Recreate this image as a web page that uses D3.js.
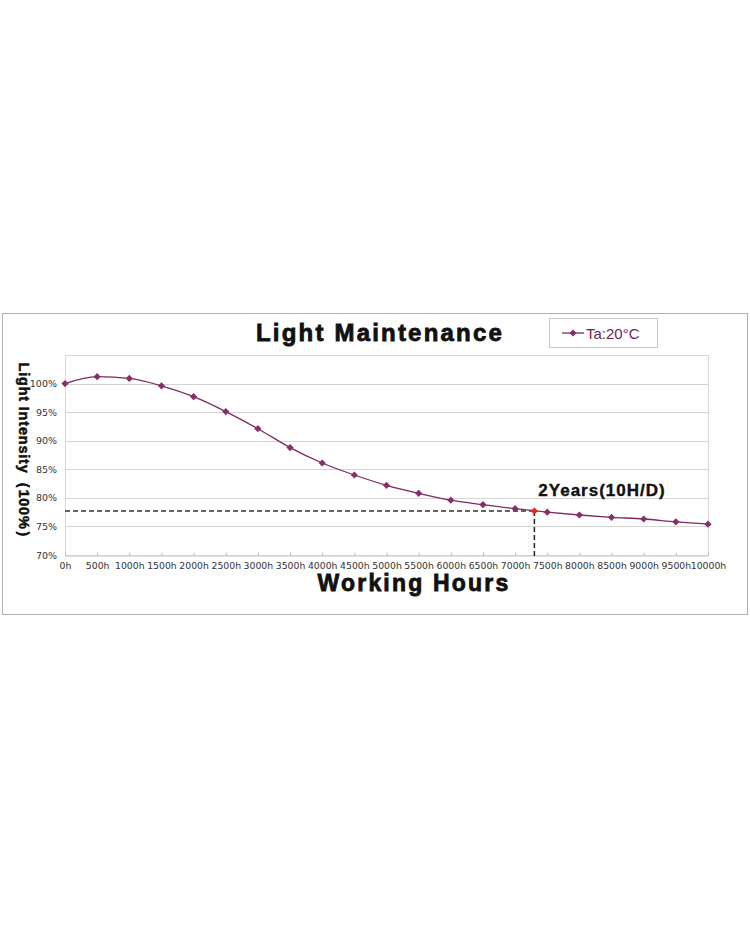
<!DOCTYPE html>
<html>
<head>
<meta charset="utf-8">
<script src="https://cdn.jsdelivr.net/npm/d3@7"></script>
<style>
html,body{margin:0;padding:0;background:#fff;}
svg{display:block;}
</style>
</head>
<body>
<svg id="chart" width="750" height="930"></svg>
<script>
// ---- data ----
const hours = [0,500,1000,1500,2000,2500,3000,3500,4000,4500,5000,5500,6000,6500,7000,7500,8000,8500,9000,9500,10000];
const intensity = [100,101.2,100.9,99.6,97.7,95.1,92.1,88.8,86.1,84.0,82.2,80.8,79.6,78.8,78.1,77.5,77.0,76.6,76.3,75.8,75.4];
const yTicks = [70,75,80,85,90,95,100];
const highlightHours = [7300];
const highlightValue = [77.7];
const seriesName = "Ta:20°C";
const titleText = "Light Maintenance";
const xTitle = "Working Hours";
const yTitle = "Light Intensity（100%）";
const noteText = "2Years(10H/D)";

const svg = d3.select("#chart");
const pL = 65, pR = 708, pT = 355, pB = 555;
const x = d3.scaleLinear().domain([0,10000]).range([pL,pR]);
const y = d3.scaleLinear().domain([70,105]).range([pB,pT]);

// outer frame
svg.append("rect").attr("x",2.5).attr("y",313.5).attr("width",745).attr("height",301)
  .attr("fill","#fff").attr("stroke","#b0b0b0").attr("stroke-width",1);

// grid lines
svg.append("g").selectAll("line").data(yTicks).join("line")
  .attr("x1",pL).attr("x2",pR)
  .attr("y1",d=>Math.round(y(d))+0.5).attr("y2",d=>Math.round(y(d))+0.5)
  .attr("stroke","#d4d4d4").attr("stroke-width",1);

// plot border
svg.append("rect").attr("x",pL+0.5).attr("y",pT+0.5).attr("width",pR-pL).attr("height",pB-pT)
  .attr("fill","none").attr("stroke","#d8d8d8");

// x axis
const xAxis = d3.axisBottom(x).tickValues(hours).tickFormat(d=>d+"h").tickSize(-3).tickPadding(7);
const gx = svg.append("g").attr("transform",`translate(0,${pB+0.5})`).call(xAxis);
gx.select(".domain").attr("stroke","#c8c8c8");
gx.selectAll(".tick line").attr("stroke","#b8b8b8");
gx.selectAll("text").attr("font-family","DejaVu Sans").attr("font-size",9.3)
  .attr("fill","#333");

// y axis
const yAxis = d3.axisLeft(y).tickValues(yTicks).tickFormat(d=>d+"%").tickSize(0).tickPadding(8);
const gy = svg.append("g").attr("transform",`translate(${pL},0)`).call(yAxis);
gy.select(".domain").remove();
gy.selectAll("text").attr("font-family","DejaVu Sans").attr("font-size",9.5).attr("fill","#333");

// dashed reference lines
svg.append("line").attr("x1",pL).attr("x2",x(highlightHours[0]))
  .attr("y1",y(highlightValue[0])).attr("y2",y(highlightValue[0]))
  .attr("stroke","#333").attr("stroke-width",1.5).attr("stroke-dasharray","5,3");
svg.append("line").attr("x1",x(highlightHours[0])).attr("x2",x(highlightHours[0]))
  .attr("y1",y(highlightValue[0])).attr("y2",pB+1)
  .attr("stroke","#222").attr("stroke-width",1.5).attr("stroke-dasharray","5,3");

// series line
const pts = hours.map((h,i)=>[h,intensity[i]]);
const line = d3.line().x(d=>x(d[0])).y(d=>y(d[1])).curve(d3.curveMonotoneX);
svg.append("path").datum(pts).attr("d",line).attr("fill","none")
  .attr("stroke","#7d2a60").attr("stroke-width",1.3);

const diamond = d3.symbol().type(d3.symbolSquare).size(26);
svg.append("g").selectAll("path").data(pts).join("path")
  .attr("d",diamond).attr("transform",d=>`translate(${x(d[0])},${y(d[1])}) rotate(45)`)
  .attr("fill","#862f6a");

// highlight point
svg.append("g").selectAll("path").data(highlightHours).join("path")
  .attr("d",d3.symbol().type(d3.symbolSquare).size(26))
  .attr("transform",(d,i)=>`translate(${x(d)},${y(highlightValue[i])}) rotate(45)`)
  .attr("fill","#e8251a");

// note
svg.append("text").attr("x",602).attr("y",496).attr("text-anchor","middle")
  .attr("font-family","Liberation Sans").attr("font-weight","bold").attr("font-size",17)
  .attr("letter-spacing","1px").attr("stroke","#111").attr("stroke-width",0.4)
  .attr("fill","#111").text(noteText);

// title
svg.append("text").attr("x",380).attr("y",341).attr("text-anchor","middle")
  .attr("font-family","Liberation Sans").attr("font-weight","bold").attr("font-size",24)
  .attr("letter-spacing","2.2px").attr("stroke","#111").attr("stroke-width",0.8)
  .attr("fill","#111").text(titleText);

// x title
svg.append("text").attr("x",414).attr("y",591).attr("text-anchor","middle")
  .attr("font-family","Liberation Sans").attr("font-weight","bold").attr("font-size",23)
  .attr("letter-spacing","2.2px").attr("stroke","#111").attr("stroke-width",0.8)
  .attr("fill","#111").text(xTitle);

// y title
svg.append("text").attr("transform","translate(19,454) rotate(90)").attr("text-anchor","middle")
  .attr("font-family","Liberation Sans").attr("font-weight","bold").attr("font-size",14.5)
  .attr("letter-spacing","0.8px").attr("stroke","#111").attr("stroke-width",0.5)
  .attr("fill","#111").text(yTitle);

// legend
svg.append("rect").attr("x",549.5).attr("y",318.5).attr("width",108).attr("height",29)
  .attr("fill","#fff").attr("stroke","#c8c8c8");
svg.append("line").attr("x1",562).attr("x2",584).attr("y1",333).attr("y2",333)
  .attr("stroke","#7d2a60").attr("stroke-width",1.3);
svg.append("path").attr("d",diamond).attr("transform","translate(573,333) rotate(45)").attr("fill","#862f6a");
svg.append("text").attr("x",586).attr("y",338.5)
  .attr("font-family","Liberation Sans").attr("font-size",15).attr("fill","#6b2755")
  .text(seriesName);
</script>
</body>
</html>
